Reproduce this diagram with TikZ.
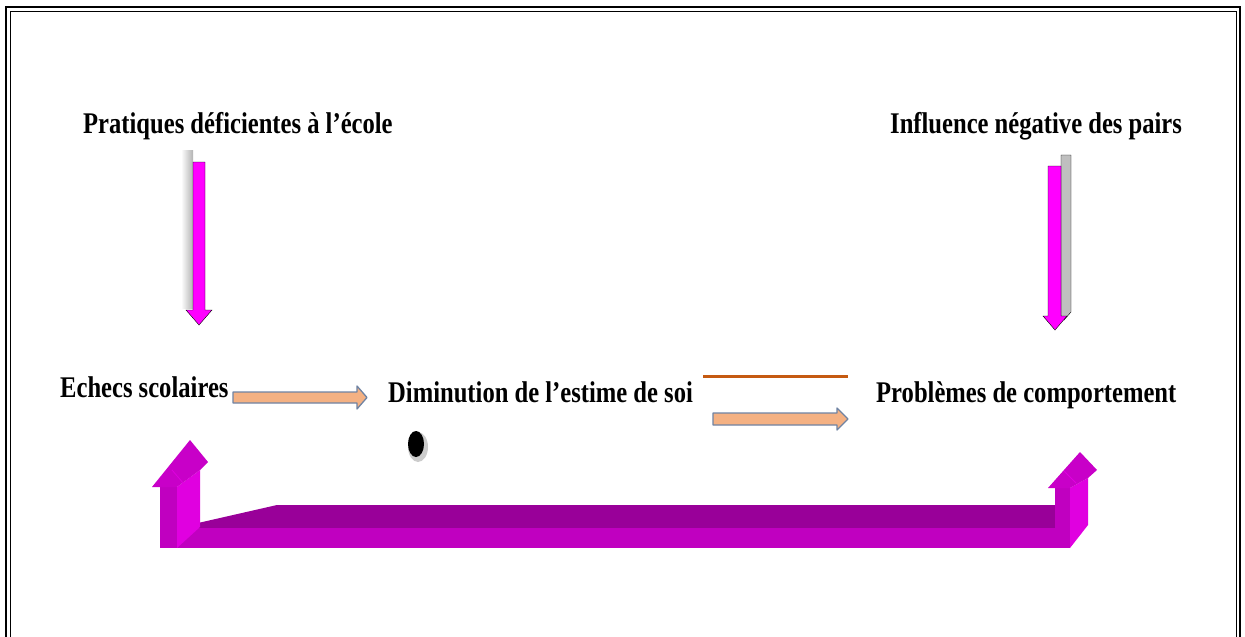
\documentclass[tikz,border=0pt]{standalone}
\usepackage{fontspec}
\setmainfont{Liberation Serif}[FakeStretch=0.82]
\usetikzlibrary{shapes}
\definecolor{mag}{HTML}{FF00FF}
\definecolor{ufront}{HTML}{C000C0}
\definecolor{utop}{HTML}{990099}
\definecolor{uside}{HTML}{E000E0}
\definecolor{uhead}{HTML}{C800C8}
\definecolor{salmon}{HTML}{F4B183}
\definecolor{slate}{HTML}{6F83A3}
\definecolor{rust}{HTML}{C55A11}
\tikzstyle{lbl}=[font=\bfseries\fontsize{30}{34}\selectfont, inner sep=0pt, anchor=base west]
\tikzstyle{blk}=[fill=salmon, draw=slate, line width=1.3pt, line join=round]
\tikzstyle{down}=[fill=mag]
\tikzstyle{shade}=[fill=black!25]

\begin{document}
\begin{tikzpicture}[x=1pt, y=-1pt]
\useasboundingbox (0,0) rectangle (1245,637);
\clip (0,0) rectangle (1245,637);

\draw (6,7) rectangle (1240,700) [line width=2.8pt];
\draw (10,11) rectangle (1236,700) [line width=0.8pt];

\node (prat) [lbl] at (83,133) {Pratiques déficientes à l’école};
\node (infl) [lbl] at (890,133) {Influence négative des pairs};
\node (echec) [lbl] at (60,397) {Echecs scolaires};
\node (dimin) [lbl] at (388,402) {Diminution de l’estime de soi};
\node (probl) [lbl] at (876,402) {Problèmes de comportement};

\shade[left color=white, right color=black!30] (181,150) rectangle (193,308);
\draw (193,162) -- (205,162) -- (205,310) -- (212,310) -- (199,325) -- (186,310) -- (193,310) -- cycle [down];

\draw (1061,155) -- (1071,155) -- (1071,312) -- (1064,320) -- (1061,316) -- cycle [shade];
\draw (1048,166) -- (1061,166) -- (1061,316) -- (1067,316) -- (1055,330) -- (1043,316) -- (1048,316) -- cycle [down];

\draw (233,392) -- (357,392) -- (357,386) -- (367,397.5) -- (357,409) -- (357,403) -- (233,403) -- cycle [blk];
\draw (713,413) -- (837,413) -- (837,408) -- (848,419) -- (837,430) -- (837,425) -- (713,425) -- cycle [blk];
\draw (703,376) -- (848,376) [rust, line width=3pt];

\fill (418,447) ellipse [x radius=10, y radius=15] [black!20];
\fill (416,444) ellipse [x radius=8, y radius=13] [black];
\node (dot) at (416,444) [inner sep=0pt] {};

\fill (198,523) -- (277,505) -- (1055,505) -- (1055,529) -- (198,529) -- cycle [utop];
\fill (160,528) rectangle (1070,548) [ufront];
\fill (160,487) rectangle (177,548) [ufront];
\fill (177,487) -- (200,470) -- (200,527) -- (177,548) -- cycle [uside];
\fill (152,487) -- (190,440) -- (208,462) -- (200,470) -- (177,487) -- cycle [uhead];
\draw (172,470) -- (184,484) [uside, line width=0.8pt];

\fill (1055,488) rectangle (1070,548) [ufront];
\fill (1070,488) -- (1088,478) -- (1088,525) -- (1070,548) -- cycle [uside];
\fill (1048,488) -- (1080,452) -- (1097,470) -- (1088,478) -- (1070,488) -- cycle [uhead];
\draw (1064,471) -- (1076,483) [uside, line width=0.8pt];

\end{tikzpicture}
\end{document}
